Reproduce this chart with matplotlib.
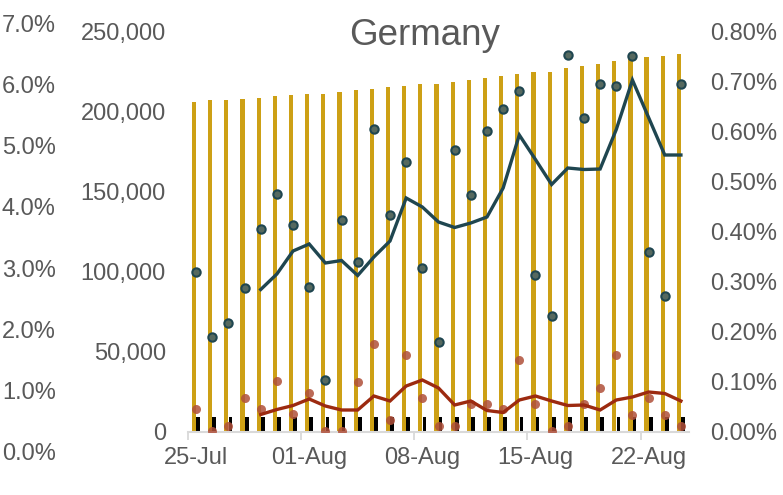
import matplotlib
matplotlib.use("Agg")
import matplotlib.pyplot as plt
import numpy as np
from matplotlib.ticker import FuncFormatter, FixedLocator

plt.rcParams["font.family"] = ["Liberation Sans", "DejaVu Sans"]

# ---- data ----
dates = ["25-Jul", "26-Jul", "27-Jul", "28-Jul", "29-Jul", "30-Jul", "31-Jul",
         "01-Aug", "02-Aug", "03-Aug", "04-Aug", "05-Aug", "06-Aug", "07-Aug",
         "08-Aug", "09-Aug", "10-Aug", "11-Aug", "12-Aug", "13-Aug", "14-Aug",
         "15-Aug", "16-Aug", "17-Aug", "18-Aug", "19-Aug", "20-Aug", "21-Aug",
         "22-Aug", "23-Aug", "24-Aug"]
label_dates = ["25-Jul", "01-Aug", "08-Aug", "15-Aug", "22-Aug"]

total_cases = [206250, 206880, 207500, 207940, 208560, 209560, 210440, 211060,
               211250, 212310, 213130, 214190, 215190, 216250, 217060, 217500,
               218750, 219810, 221060, 222500, 223750, 225000, 225000, 226880,
               228310, 230000, 231440, 233130, 233940, 234560, 236250]
total_deaths = [9120, 9120, 9130, 9140, 9140, 9150, 9150, 9150, 9150, 9150, 9160,
                9170, 9170, 9180, 9190, 9190, 9190, 9200, 9210, 9210, 9230, 9230,
                9230, 9240, 9240, 9250, 9260, 9270, 9270, 9280, 9280]

case_growth = [0.319, 0.190, 0.217, 0.288, 0.405, 0.475, 0.413, 0.289, 0.103,
               0.423, 0.339, 0.605, 0.434, 0.539, 0.328, 0.179, 0.563, 0.474,
               0.602, 0.645, 0.681, 0.313, 0.232, 0.754, 0.627, 0.696, 0.691,
               0.752, 0.359, 0.271, 0.695]
case_growth_avg = [None, None, None, None, 0.284, 0.315, 0.361, 0.375, 0.337,
                   0.342, 0.312, 0.349, 0.381, 0.467, 0.449, 0.419, 0.408,
                   0.417, 0.429, 0.487, 0.593, 0.544, 0.494, 0.527, 0.524,
                   0.525, 0.604, 0.703, 0.628, 0.553, 0.553]

death_growth = [0.045, 0.002, 0.012, 0.067, 0.045, 0.101, 0.035, 0.078, 0.002,
                0.002, 0.099, 0.176, 0.023, 0.154, 0.067, 0.012, 0.012, 0.056,
                0.056, 0.046, 0.143, 0.056, 0.002, 0.012, 0.056, 0.088, 0.153,
                0.034, 0.067, 0.034, 0.012]
death_growth_avg = [None, None, None, None, 0.034, 0.044, 0.052, 0.065, 0.051,
                    0.043, 0.043, 0.071, 0.061, 0.091, 0.103, 0.087, 0.053,
                    0.061, 0.042, 0.038, 0.063, 0.071, 0.061, 0.052, 0.053,
                    0.043, 0.063, 0.069, 0.079, 0.076, 0.061]

GOLD = "#CDA015"
TEAL = "#1F4650"
TEAL_FACE = "#56695F"
RED = "#9C2A10"
RED_DOT = "#B0503A"
GREY = "#595959"
FS = 17

x = np.arange(len(dates))
cg = np.array([np.nan if v is None else v for v in case_growth_avg], dtype=float) / 100
dg = np.array([np.nan if v is None else v for v in death_growth_avg], dtype=float) / 100

fig = plt.figure(figsize=(7.83, 4.95), dpi=100)
ax = fig.add_axes([188 / 783, 63.5 / 495, 501 / 783, 400 / 495])

ax.bar(x - 0.125, total_cases, width=0.26, color=GOLD, zorder=2)
ax.bar(x + 0.13, total_deaths, width=0.23, color="black", zorder=2)
ax.set_ylim(0, 250000)
ax.set_xlim(-0.5, len(dates) - 0.5)
ax.yaxis.set_major_locator(FixedLocator([0, 50000, 100000, 150000, 200000, 250000]))
ax.yaxis.set_major_formatter(FuncFormatter(lambda v, _p: f"{v:,.0f}"))
ax.tick_params(axis="y", length=0, pad=16, labelsize=FS, labelcolor=GREY)

# ticks at week boundaries, labels at the date itself
ax.xaxis.set_major_locator(FixedLocator([i - 0.5 for i in range(0, 31, 7)]))
ax.xaxis.set_major_formatter(FuncFormatter(lambda v, _p: ""))
ax.xaxis.set_minor_locator(FixedLocator([dates.index(d) for d in label_dates]))
ax.set_xticklabels(label_dates, minor=True)
ax.tick_params(axis="x", which="major", length=6, width=1.3, color="#D9D9D9")
ax.tick_params(axis="x", which="minor", length=0, pad=11, labelsize=FS, labelcolor=GREY)
for s in ["top", "left", "right"]:
    ax.spines[s].set_visible(False)
ax.spines["bottom"].set_color("#D9D9D9")
ax.spines["bottom"].set_linewidth(1.5)

# right axis: growth rates
ax2 = ax.twinx()
ax2.set_ylim(0, 0.008)
ax2.yaxis.set_major_locator(FixedLocator(np.arange(0, 0.0081, 0.001)))
ax2.yaxis.set_major_formatter(FuncFormatter(lambda v, _p: f"{v * 100:.2f}%"))
ax2.tick_params(axis="y", length=0, pad=15, labelsize=FS, labelcolor=GREY)
for s in ax2.spines.values():
    s.set_visible(False)

ax2.plot(x, np.array(death_growth) / 100, "o", ms=6.5, color=RED_DOT, alpha=0.85,
         mec="none", zorder=3)
ax2.plot(x, dg, color=RED, lw=2.4, zorder=4, solid_joinstyle="miter")
ax2.plot(x, cg, color=TEAL, lw=2.4, zorder=5, solid_joinstyle="miter")
ax2.plot(x, np.array(case_growth) / 100, "o", ms=6, color=TEAL_FACE, mec=TEAL,
         mew=1.5, zorder=6)

# far-left percentage axis
ax3 = fig.add_axes([60 / 783, 43.3 / 495, 0.001, 428.4 / 495])
ax3.set_ylim(0, 0.07)
ax3.yaxis.set_major_locator(FixedLocator(np.arange(0, 0.0701, 0.01)))
ax3.yaxis.set_major_formatter(FuncFormatter(lambda v, _p: f"{v * 100:.1f}%"))
ax3.tick_params(axis="y", length=0, pad=3, labelsize=FS, labelcolor=GREY)
ax3.set_xticks([])
for s in ax3.spines.values():
    s.set_visible(False)
ax3.patch.set_visible(False)

fig.text(425 / 783, (495 - 45) / 495, "Germany", ha="center", va="baseline",
         fontsize=26.5, color=GREY)

fig.savefig("out.png", dpi=100)
